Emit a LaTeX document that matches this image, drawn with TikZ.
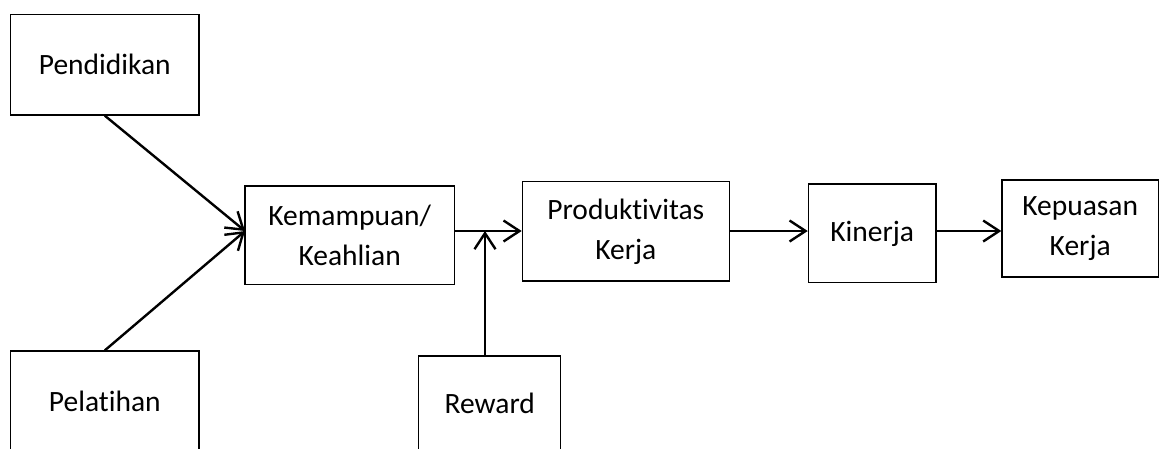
\documentclass[tikz,border=0pt]{standalone}
\usepackage{fontspec}
\setmainfont{Carlito}[RawFeature={-liga}]
\usetikzlibrary{arrows.meta}
\tikzset{
  box/.style={draw, line width=1.2pt, align=center, inner sep=0pt,
    font=\fontsize{29.5}{40}\selectfont},
  arr/.style={line width=2.4pt, -{Straight Barb[length=16pt,width=21pt,line width=2.4pt]}}
}
\begin{document}
\begin{tikzpicture}[x=1pt,y=-1pt]
\useasboundingbox (0,0) rectangle (1167,448);
\clip (0,0) rectangle (1167,448);
\node[box, minimum width=188.3, minimum height=100.7] (pend) at (104.8,64.7) {Pendidikan};
\node[box, minimum width=188.3, minimum height=100] (pel) at (104.8,401) {Pelatihan};
\node[box, minimum width=209.3, minimum height=98.3] (kem) at (349.7,235.2) {Kemampuan/\\Keahlian};
\node[box, minimum width=142, minimum height=95] (rew) at (489.7,403.5) {Reward};
\node[box, minimum width=207, minimum height=99.3] (prod) at (625.8,231.3) {Produktivitas\\Kerja};
\node[box, minimum width=127.7, minimum height=98.7] (kin) at (872.2,233.4) {Kinerja};
\node[box, minimum width=156.5, minimum height=97] (kep) at (1080.2,228.5) {Kepuasan\\Kerja};
\coordinate (kin0) at (245,231);
\coordinate (m) at (485,231);
\draw[arr] (pend.south) -- (kin0);
\draw[arr] (pel.north) -- (kin0);
\draw[arr] (kem.east |- m) -- (prod.west |- m);
\draw[arr] (rew.north -| m) -- (m);
\draw[arr] (prod.east |- m) -- (kin.west |- m);
\draw[arr] (kin.east |- m) -- (kep.west |- m);
\end{tikzpicture}
\end{document}
